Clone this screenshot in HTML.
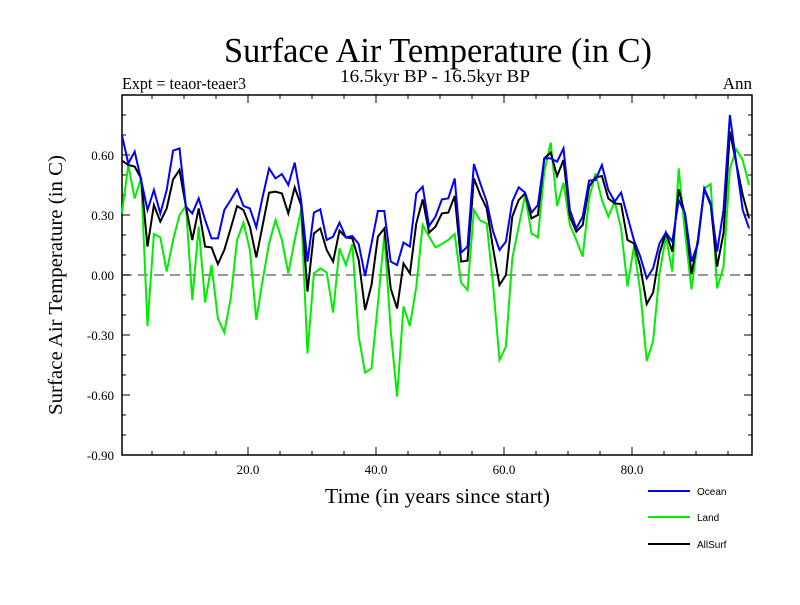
<!DOCTYPE html>
<html><head><meta charset="utf-8"><style>
body{margin:0;background:#fff}
svg text{font-family:"Liberation Serif",serif}
</style></head><body>
<svg id="c" width="800" height="600" xmlns="http://www.w3.org/2000/svg">
<rect width="800" height="600" fill="#fff"/>
<text x="224" y="62" font-size="35" textLength="428" lengthAdjust="spacingAndGlyphs">Surface Air Temperature (in C)</text>
<text x="340" y="82" font-size="18" textLength="190" lengthAdjust="spacingAndGlyphs">16.5kyr BP - 16.5kyr BP</text>
<text x="122" y="89" font-size="17" textLength="124" lengthAdjust="spacingAndGlyphs">Expt = teaor-teaer3</text>
<text x="752" y="89" font-size="17" text-anchor="end">Ann</text>
<text transform="translate(62,285) rotate(-90)" font-size="20" text-anchor="middle" textLength="260" lengthAdjust="spacingAndGlyphs">Surface Air Temperature (in C)</text>
<text x="325" y="503" font-size="21" textLength="225" lengthAdjust="spacingAndGlyphs">Time (in years since start)</text>
<g id="axes"></g>
<g id="series"></g>
<g id="legend"></g>
</svg>
<script>
const yTicks=[-0.9,-0.6,-0.3,0,0.3,0.6];
const yTickLabels=["-0.90","-0.60","-0.30","0.00","0.30","0.60"];
const xTicks=[20,40,60,80];
const xTickLabels=["20.0","40.0","60.0","80.0"];
const ocean=[0.70,0.558,0.617,0.475,0.325,0.425,0.308,0.425,0.622,0.633,0.342,0.308,0.383,0.275,0.183,0.183,0.325,0.375,0.428,0.345,0.333,0.238,0.392,0.533,0.483,0.505,
0.45,0.562,0.375,0.067,0.312,0.328,0.175,0.192,0.262,0.188,0.195,0.155,-0.005,0.158,0.32,0.32,0.067,0.05,0.162,0.142,0.408,0.442,0.245,0.292,0.378,
0.383,0.483,0.112,0.142,0.555,0.458,0.367,0.217,0.125,0.167,0.367,0.438,0.412,0.312,0.35,0.583,0.583,0.567,0.633,0.325,0.233,0.292,0.472,0.475,
0.55,0.425,0.367,0.412,0.292,0.175,0.092,-0.017,0.033,0.158,0.212,0.167,0.375,0.308,0.067,0.158,0.433,0.358,0.117,0.325,0.8,0.558,0.325,0.233];
const land=[0.308,0.55,0.383,0.487,-0.255,0.205,0.188,0.017,0.175,0.3,0.345,-0.125,0.242,-0.138,0.05,-0.217,-0.288,-0.117,0.175,0.262,0.125,-0.225,-0.025,0.158,0.275,0.175,
0.008,0.175,0.325,-0.392,0.008,0.033,0.012,-0.188,0.133,0.05,0.155,-0.308,-0.488,-0.467,-0.142,0.2,-0.275,-0.608,-0.158,-0.255,-0.058,0.25,0.192,0.138,0.155,
0.175,0.205,-0.038,-0.075,0.325,0.272,0.258,-0.05,-0.425,-0.358,0.083,0.242,0.4,0.208,0.188,0.517,0.662,0.345,0.462,0.25,0.175,0.092,0.383,0.508,
0.375,0.292,0.367,0.233,-0.058,0.142,-0.083,-0.43,-0.33,0.008,0.192,0.017,0.533,0.208,-0.072,0.175,0.433,0.455,-0.067,0.042,0.533,0.628,0.575,0.45];
const allSurf=[0.572,0.55,0.542,0.483,0.142,0.35,0.267,0.333,0.478,0.525,0.342,0.175,0.333,0.142,0.138,0.055,0.125,0.233,0.345,0.325,0.242,0.088,0.25,0.412,0.417,0.408,
0.308,0.438,0.35,-0.083,0.208,0.233,0.125,0.067,0.222,0.188,0.183,0.075,-0.175,-0.05,0.192,0.233,-0.067,-0.167,0.058,0.008,0.258,0.378,0.212,0.242,0.308,
0.312,0.395,0.067,0.072,0.483,0.4,0.333,0.133,-0.05,0,0.292,0.375,0.408,0.283,0.3,0.583,0.612,0.495,0.575,0.292,0.217,0.25,0.442,0.488,
0.495,0.383,0.358,0.355,0.175,0.158,0.042,-0.145,-0.088,0.108,0.212,0.117,0.428,0.3,0.005,0.175,0.428,0.35,0.042,0.208,0.717,0.558,0.4,0.283];
const L=122,R=752,T=95,B=455;
const xs=t=>120+t*6.4;
const ys=v=>275-v*200;
const NS="http://www.w3.org/2000/svg";
function mk(tag,at,parent){const e=document.createElementNS(NS,tag);for(const k in at)e.setAttribute(k,at[k]);parent.appendChild(e);return e;}
const ax=document.getElementById('axes');
let frame=mk('rect',{x:L,y:T,width:R-L,height:B-T,fill:'none',stroke:'#000','stroke-width':1.5},ax);


let zl=mk('line',{x1:L,x2:R,y1:ys(0),y2:ys(0),stroke:'#777','stroke-width':1.5,'stroke-dasharray':'10,6'},ax);


for(let v=-0.9;v<=0.901;v+=0.1){const y=ys(v);const len=Math.abs(Math.round(v*10))%3===0?8:4;
 mk('line',{x1:L,x2:L+len,y1:y,y2:y,stroke:'#000'},ax);mk('line',{x1:R,x2:R-len,y1:y,y2:y,stroke:'#000'},ax);}
for(let t=5;t<99;t+=5){const x=xs(t);const len=t%20===0?8:4;
 mk('line',{x1:x,x2:x,y1:B,y2:B-len,stroke:'#000'},ax);mk('line',{x1:x,x2:x,y1:T,y2:T+len,stroke:'#000'},ax);}
yTicks.forEach((v,i)=>{const t=mk('text',{x:L-8,y:ys(v)+5,'font-size':13,'text-anchor':'end'},ax);t.textContent=yTickLabels[i];
 
 });
xTicks.forEach((v,i)=>{const t=mk('text',{x:xs(v),y:B+19,'font-size':13,'text-anchor':'middle'},ax);t.textContent=xTickLabels[i];
 
 });
const sg=document.getElementById('series');
function line(arr,col,name){const pts=arr.map((v,i)=>xs(i+0.3).toFixed(1)+','+ys(v).toFixed(1)).join(' ');
 const p=mk('polyline',{points:pts,fill:'none',stroke:col,'stroke-width':2,'stroke-linejoin':'miter'},sg);
 
 }
line(land,'#00ee00','land-line');
line(allSurf,'#000','allsurf-line');
line(ocean,'#0000ff','ocean-line');
const lg=document.getElementById('legend');
[['Ocean','#0000ff',491],['Land','#00ee00',517],['AllSurf','#000',544]].forEach(([n,c,y])=>{
 const g=mk('g',{},lg);
 
 
 mk('line',{x1:648,x2:690,y1:y,y2:y,stroke:c,'stroke-width':2},g);
 const t=mk('text',{x:697,y:y+4,'font-size':10,style:'font-family:"Liberation Sans",sans-serif'},g);t.textContent=n;});
</script>
</body></html>
